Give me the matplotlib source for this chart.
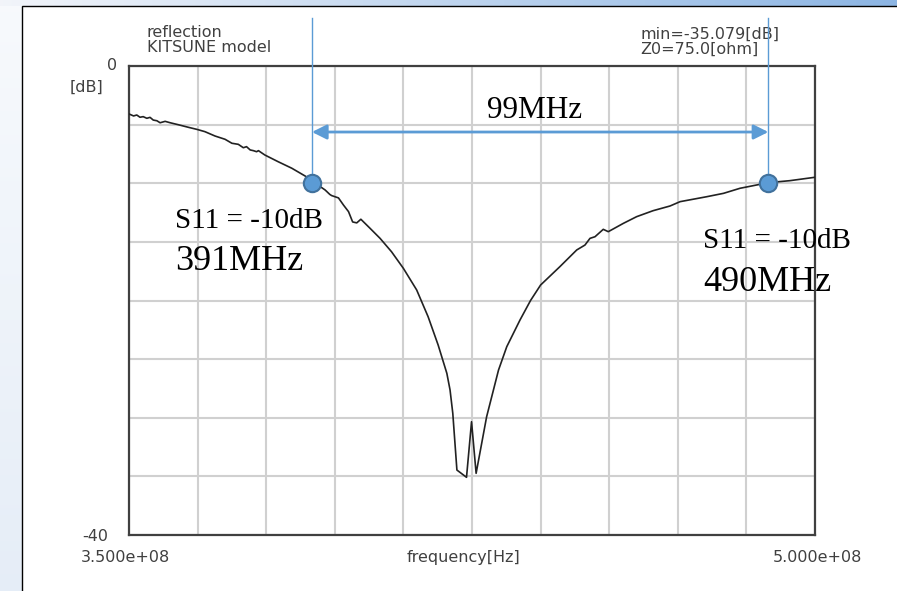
import numpy as np
import matplotlib
matplotlib.use("Agg")
import matplotlib.pyplot as plt
from matplotlib.patches import Rectangle

# S11 trace (MHz, dB)
freq_mhz = [350.0, 351.0, 351.7, 352.4, 353.1, 353.9, 354.6, 355.3, 356.1, 356.8,
            357.9, 359.0, 360.8, 363.0, 364.8, 366.6, 368.8, 371.0, 372.5, 373.9,
            375.0, 375.7, 376.5, 377.2, 377.9, 378.3, 379.7, 382.6, 385.6, 388.5,
            390.3, 392.9, 393.9, 394.3, 395.8, 396.9, 398.0, 398.9, 399.8, 400.7,
            402.7, 404.9, 407.4, 410.0, 412.9, 415.4, 417.6, 419.5, 420.2, 420.8,
            421.7, 423.8, 424.9, 425.9, 428.2, 430.8, 432.6, 435.5, 437.8, 440.0,
            444.2, 447.9, 449.7, 450.8, 451.9, 453.7, 454.8, 458.1, 461.0, 464.6,
            468.3, 470.5, 476.3, 480.0, 483.6, 489.8, 494.5, 500.0]
s11_db = [-4.09, -4.26, -4.18, -4.37, -4.32, -4.46, -4.38, -4.61, -4.67, -4.84,
          -4.72, -4.84, -5.01, -5.23, -5.40, -5.60, -5.97, -6.25, -6.59, -6.68,
          -6.97, -6.88, -7.16, -7.22, -7.31, -7.22, -7.59, -8.16, -8.72, -9.38,
          -9.87, -10.58, -10.95, -11.05, -11.25, -11.86, -12.42, -13.30, -13.38, -13.07,
          -13.84, -14.70, -15.84, -17.26, -19.10, -21.38, -23.80, -26.21, -27.63, -29.62,
          -34.46, -35.08, -30.34, -34.74, -29.91, -25.93, -23.94, -21.66, -20.00, -18.68,
          -17.12, -15.69, -15.27, -14.70, -14.56, -13.93, -14.13, -13.42, -12.85, -12.34,
          -11.94, -11.57, -11.15, -10.86, -10.43, -9.95, -9.78, -9.49]

# -10 dB crossing markers
mark_mhz = [390.0, 489.8]
mark_db = [-10.0, -10.0]
mark_labels = ["391MHz", "490MHz"]
bandwidth_label = "99MHz"

blue = "#5b9bd5"
grey_txt = "#404040"

W, H = 897, 591
fig = plt.figure(figsize=(W / 100, H / 100), dpi=100)

# slide background: light gradient strips around the screenshot
bg = fig.add_axes([0, 0, 1, 1])
img = np.ones((H, W, 3))
left_top = np.array([0.97, 0.98, 0.99])
left_bot = np.array([0.90, 0.93, 0.97])
for r in range(H):
    t = r / (H - 1)
    img[r, :22] = left_top * (1 - t) + left_bot * t
top_l = np.array([0.95, 0.96, 0.98])
top_r = np.array([0.55, 0.71, 0.89])
for c in range(W):
    t = c / (W - 1)
    img[:6, c] = top_l * (1 - t) + top_r * t
bg.imshow(img, aspect="auto", extent=[0, 1, 0, 1], origin="upper")
bg.axis("off")
fig.patches.append(Rectangle((22 / W, -0.01), 1.0, 1 - 6 / H + 0.01,
                             transform=fig.transFigure, facecolor="white",
                             edgecolor="black", linewidth=1.0, zorder=1))

ax = fig.add_axes([129 / W, 1 - 535 / H, 686 / W, 469 / H])
ax.set_zorder(2)
ax.set_xlim(350e6, 500e6)
ax.set_ylim(-40, 0)
ax.set_xticks(np.linspace(350e6, 500e6, 11))
ax.set_yticks(np.linspace(-40, 0, 9))
ax.grid(True, color="#d0d0d0", linewidth=1.5)
ax.tick_params(length=0, labelbottom=False, labelleft=False)
for s in ax.spines.values():
    s.set_color("#404040")
    s.set_linewidth(1.6)

f = np.array(freq_mhz) * 1e6
ax.plot(f, s11_db, color="#222222", linewidth=1.2, zorder=3)

# marker lines, arrow and dots
for m, d in zip(mark_mhz, mark_db):
    ax.plot([m * 1e6, m * 1e6], [4.1, d], color=blue, linewidth=1.0,
            clip_on=False, zorder=4)
ax.annotate("", xy=(mark_mhz[0] * 1e6, -5.63), xytext=(mark_mhz[1] * 1e6, -5.63),
            arrowprops=dict(arrowstyle="<|-|>", color=blue, lw=2.0,
                            mutation_scale=22, shrinkA=0, shrinkB=0), zorder=4)
ax.plot(np.array(mark_mhz) * 1e6, mark_db, "o", markersize=12.5,
        markerfacecolor=blue, markeredgecolor="#41719c", markeredgewidth=1.5,
        zorder=5, clip_on=False)

serif = "Liberation Serif"
ax.text(438.6e6, -4.43, bandwidth_label, fontsize=22.5, family=serif,
        ha="center", va="baseline", zorder=6)
ax.text(360.1e6, -13.82, "S11 = -10dB", fontsize=21, family=serif,
        va="baseline", zorder=6)
ax.text(360.1e6, -17.4, mark_labels[0], fontsize=26, family=serif,
        va="baseline", zorder=6)
ax.text(475.5e6, -15.52, "S11 = -10dB", fontsize=21, family=serif,
        va="baseline", zorder=6)
ax.text(475.5e6, -19.19, mark_labels[1], fontsize=26, family=serif,
        va="baseline", zorder=6)

# axis annotations in the original style
small = dict(fontsize=11.5, color=grey_txt, transform=ax.transAxes, clip_on=False)
ax.text(-0.0175, 1.0, "0", ha="right", va="center", **small)
ax.text(-0.038, 0.955, "[dB]", ha="right", va="center", **small)
ax.text(-0.0306, -0.004, "-40", ha="right", va="center", **small)
ax.text(-0.07, -0.047, "3.500e+08", ha="left", va="center", **small)
ax.text(1.0685, -0.047, "5.000e+08", ha="right", va="center", **small)
ax.text(0.488, -0.047, "frequency[Hz]", ha="center", va="center", **small)
ax.text(0.026, 1.088, "reflection\nKITSUNE model", ha="left", va="top",
        linespacing=1.0, **small)
ax.text(0.745, 1.084, "min=-35.079[dB]\nZ0=75.0[ohm]", ha="left", va="top",
        linespacing=1.0, **small)

fig.savefig("out.png", dpi=100)
